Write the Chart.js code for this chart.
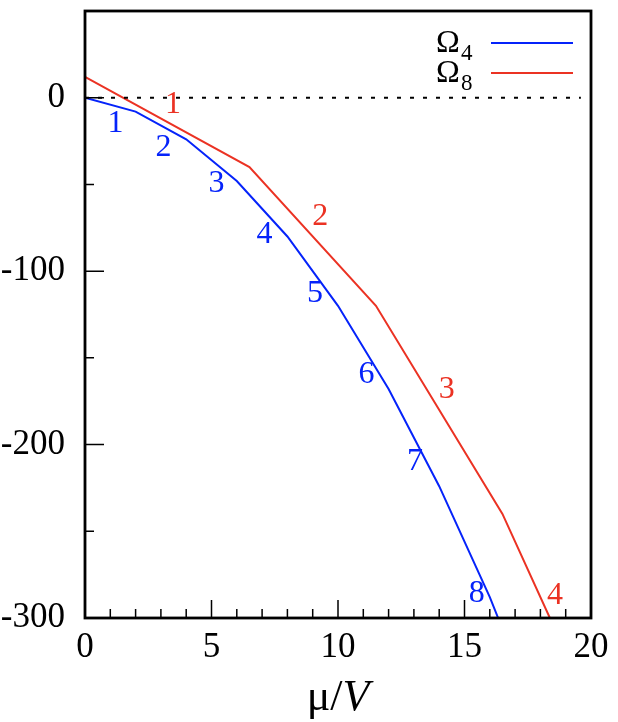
<!DOCTYPE html>
<html>
<head>
<meta charset="utf-8">
<script src="https://cdn.jsdelivr.net/npm/chart.js@4/dist/chart.umd.min.js"></script>
<style>
  html, body { margin: 0; padding: 0; background: #fff; }
</style>
</head>
<body>
<canvas id="myChart" width="618" height="722"></canvas>
<script>
// Omega_4 curve (blue)
var muBlue = [0, 2, 4, 6, 8, 10, 12, 14, 16, 16.33];
var omega4 = [0, -8, -24, -48, -80, -120, -168, -224, -288, -300];
// Omega_8 curve (red)
var muRed = [0, 6.5, 11.5, 16.5, 18.375];
var omega8 = [12, -40, -120, -240, -300];
// dotted zero line
var zeroX = [0, 19.6];
var zeroY = [0, 0];

// segment numbers written next to the curves
var blueNames = ['1', '2', '3', '4', '5', '6', '7', '8'];
var blueNameX = [1.21, 3.1, 5.2, 7.09, 9.09, 11.13, 13.04, 15.48];
var blueNameY = [-14.8, -28.6, -49.3, -79, -112.7, -159.8, -209.8, -286];
var redNames = ['1', '2', '3', '4'];
var redNameX = [3.48, 9.3, 14.3, 18.58];
var redNameY = [-4.2, -68.6, -168.5, -287];

var xTicks = [0, 5, 10, 15, 20];
var yTicks = [-300, -200, -100, 0];

var BLUE = 'rgb(5,35,250)';
var RED = 'rgb(235,50,35)';
var SERIF = '"Liberation Serif", "DejaVu Serif", serif';

function pts(xs, ys) {
    return xs.map((x, i) => ({ x: x, y: ys[i] }));
}

var extras = {
    id: 'extras',
    afterDraw: function(chart) {
        var ctx = chart.ctx;
        var a = chart.chartArea;
        var xs = chart.scales.x, ys = chart.scales.y;
        ctx.save();

        // inside tick marks
        ctx.strokeStyle = '#000';
        ctx.lineWidth = 1.5;
        ctx.beginPath();
        for (var v = 1; v < 20; v++) {
            var px = xs.getPixelForValue(v);
            var len = v % 5 === 0 ? 18 : 9;
            ctx.moveTo(px, a.bottom);
            ctx.lineTo(px, a.bottom - len);
        }
        for (var w = -250; w < 50; w += 50) {
            var py = ys.getPixelForValue(w);
            var l2 = w % 100 === 0 ? 19 : 9;
            ctx.moveTo(a.left, py);
            ctx.lineTo(a.left + l2, py);
        }
        ctx.stroke();

        // frame
        ctx.lineWidth = 2.8;
        ctx.strokeRect(a.left, a.top, a.right - a.left, a.bottom - a.top);

        // segment numbers
        ctx.font = '32px ' + SERIF;
        ctx.textAlign = 'center';
        ctx.textBaseline = 'middle';
        ctx.fillStyle = BLUE;
        blueNames.forEach(function(t, i) {
            ctx.fillText(t, xs.getPixelForValue(blueNameX[i]), ys.getPixelForValue(blueNameY[i]));
        });
        ctx.fillStyle = RED;
        redNames.forEach(function(t, i) {
            ctx.fillText(t, xs.getPixelForValue(redNameX[i]), ys.getPixelForValue(redNameY[i]));
        });

        // legend
        var legend = [['4', BLUE, 43], ['8', RED, 73]];
        legend.forEach(function(it) {
            ctx.fillStyle = '#000';
            ctx.textAlign = 'left';
            ctx.textBaseline = 'alphabetic';
            ctx.font = '32px ' + SERIF;
            ctx.fillText('\u03A9', 436, it[2] + 9);
            ctx.font = '23px ' + SERIF;
            ctx.fillText(it[0], 461, it[2] + 17);
            ctx.strokeStyle = it[1];
            ctx.lineWidth = 2;
            ctx.beginPath();
            ctx.moveTo(491, it[2]);
            ctx.lineTo(573, it[2]);
            ctx.stroke();
        });

        // x axis title: mu / V
        ctx.fillStyle = '#000';
        ctx.textBaseline = 'alphabetic';
        ctx.textAlign = 'left';
        ctx.font = '44px ' + SERIF;
        var w1 = ctx.measureText('\u03BC/').width;
        ctx.font = 'italic 44px ' + SERIF;
        var w2 = ctx.measureText('V').width;
        var x0 = (a.left + a.right) / 2 - (w1 + w2) / 2;
        ctx.font = '44px ' + SERIF;
        ctx.fillText('\u03BC/', x0, 710);
        ctx.font = 'italic 44px ' + SERIF;
        ctx.fillText('V', x0 + w1, 710);

        ctx.restore();
    }
};

const ctx = document.getElementById('myChart');

new Chart(ctx, {
    type: 'line',
    data: {
        datasets: [{
            label: 'zero',
            data: pts(zeroX, zeroY),
            borderColor: '#000',
            borderWidth: 2,
            borderDash: [4, 9],
            pointRadius: 0
        }, {
            label: 'Omega4',
            data: pts(muBlue, omega4),
            borderColor: BLUE,
            borderWidth: 2,
            pointRadius: 0,
            tension: 0
        }, {
            label: 'Omega8',
            data: pts(muRed, omega8),
            borderColor: RED,
            borderWidth: 2,
            pointRadius: 0,
            tension: 0
        }]
    },
    options: {
        responsive: false,
        animation: false,
        layout: { padding: { top: 11, right: 27, left: 0, bottom: 0 } },
        plugins: {
            legend: { display: false },
            tooltip: { enabled: false }
        },
        scales: {
            x: {
                type: 'linear',
                min: 0,
                max: 20,
                afterBuildTicks: s => { s.ticks = xTicks.map(v => ({ value: v })); },
                afterFit: s => { s.height = 104; s.paddingLeft = 0; s.paddingRight = 0; },
                grid: { display: false },
                border: { display: false },
                ticks: {
                    padding: 1,
                    color: '#000',
                    maxRotation: 0,
                    font: { family: SERIF, size: 35 },
                    callback: v => String(v)
                }
            },
            y: {
                type: 'linear',
                min: -300,
                max: 50,
                afterBuildTicks: s => { s.ticks = yTicks.map(v => ({ value: v })); },
                afterFit: s => { s.width = 85; s.paddingTop = 0; s.paddingBottom = 0; },
                grid: { display: false },
                border: { display: false },
                ticks: {
                    padding: 12,
                    color: '#000',
                    font: { family: SERIF, size: 35 },
                    callback: v => String(v)
                }
            }
        }
    },
    plugins: [extras]
});
</script>
</body>
</html>
